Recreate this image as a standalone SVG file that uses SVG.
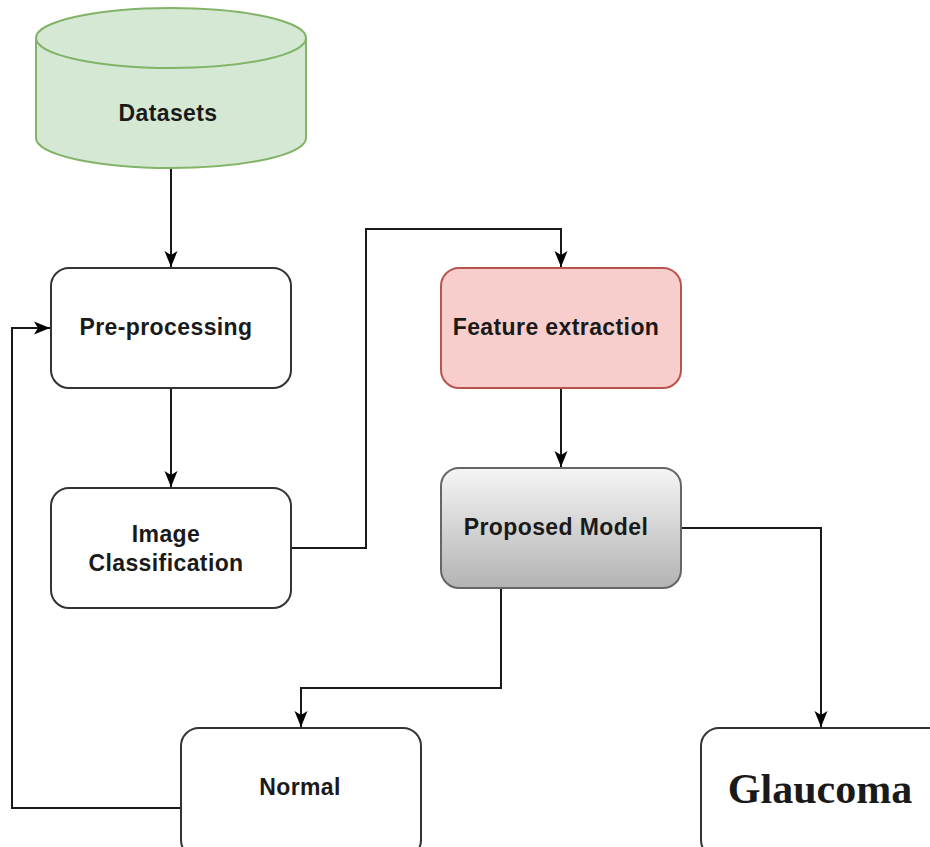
<svg xmlns="http://www.w3.org/2000/svg" width="930" height="847" viewBox="0 0 930 847">
<style>
.box{fill:#ffffff;stroke:#333333;stroke-width:2}
.lbl{font-family:"Liberation Sans",Arial,sans-serif;font-weight:bold;font-size:23px;letter-spacing:0.4px;fill:#1a1a1a;text-anchor:middle;dominant-baseline:central}
.edge{fill:none;stroke:#1a1a1a;stroke-width:2}
</style>
<defs>
<marker id="arr" markerUnits="userSpaceOnUse" markerWidth="18" markerHeight="18" viewBox="0 0 18 18" refX="17" refY="9" orient="auto">
<path d="M1,2.5 L17,9 L1,15.5 L5,9 Z" fill="#000"/>
</marker>
<linearGradient id="grey" x1="0" y1="0" x2="0" y2="1">
<stop offset="0" stop-color="#f5f5f5"/>
<stop offset="1" stop-color="#b3b3b3"/>
</linearGradient>
</defs>
<g id="connectors">
<path class="edge" d="M171,168 V267" marker-end="url(#arr)"/>
<path class="edge" d="M171,388 V487" marker-end="url(#arr)"/>
<path class="edge" d="M291,548 H366 V229 H561 V267" marker-end="url(#arr)"/>
<path class="edge" d="M561,388 V467" marker-end="url(#arr)"/>
<path class="edge" d="M501,588 V688 H301 V727" marker-end="url(#arr)"/>
<path class="edge" d="M681,528 H821 V727" marker-end="url(#arr)"/>
<path class="edge" d="M181,808 H12 V328 H50" marker-end="url(#arr)"/>
</g>
<g id="datasets">
<path d="M36,38 A135,30 0 0 1 306,38 V138 A135,30 0 0 1 36,138 Z" fill="#d5e8d4" stroke="#82b366" stroke-width="2"/>
<path d="M36,38 A135,30 0 0 0 306,38" fill="none" stroke="#82b366" stroke-width="2"/>
<text class="lbl" x="168" y="113">Datasets</text>
</g>
<g id="preprocessing">
<rect class="box" x="51" y="268" width="240" height="120" rx="18"/>
<text class="lbl" x="166" y="327">Pre-processing</text>
</g>
<g id="classification">
<rect class="box" x="51" y="488" width="240" height="120" rx="18"/>
<text class="lbl" x="166" y="534">Image</text>
<text class="lbl" x="166" y="563">Classification</text>
</g>
<g id="feature">
<rect x="441" y="268" width="240" height="120" rx="18" fill="#f8cecc" stroke="#b85450" stroke-width="2"/>
<text class="lbl" x="556" y="327">Feature extraction</text>
</g>
<g id="model">
<rect x="441" y="468" width="240" height="120" rx="18" fill="url(#grey)" stroke="#666666" stroke-width="2"/>
<text class="lbl" x="556" y="527">Proposed Model</text>
</g>
<g id="normal">
<rect class="box" x="181" y="728" width="240" height="130" rx="18"/>
<text class="lbl" x="300" y="787">Normal</text>
</g>
<g id="glaucoma">
<rect class="box" x="701" y="728" width="245" height="130" rx="18"/>
<text x="820" y="789" font-family="'Liberation Serif','Times New Roman',serif" font-weight="bold" font-size="42" fill="#1a1a1a" text-anchor="middle" dominant-baseline="central">Glaucoma</text>
</g>
</svg>
